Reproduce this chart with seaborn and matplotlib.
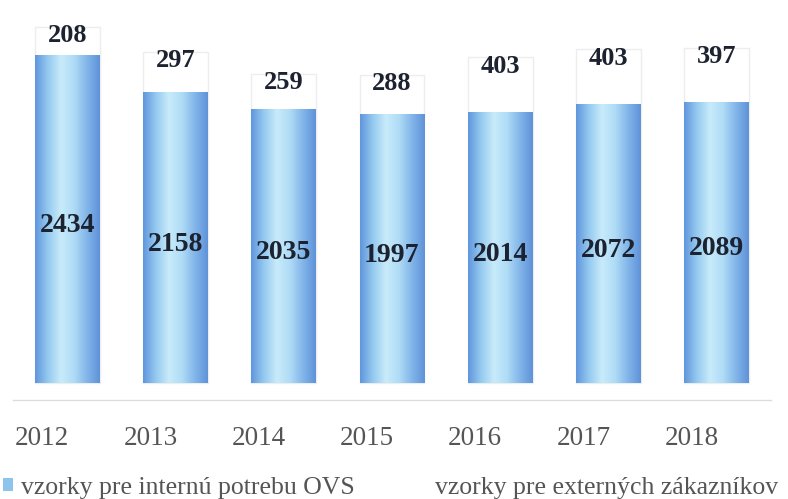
import numpy as np
import pandas as pd
import matplotlib
matplotlib.use("Agg")
import matplotlib.pyplot as plt
from matplotlib.colors import LinearSegmentedColormap
from matplotlib.patches import Patch
from matplotlib.transforms import ScaledTranslation
import seaborn as sns

years = ["2012", "2013", "2014", "2015", "2016", "2017", "2018"]
internal = [2434, 2158, 2035, 1997, 2014, 2072, 2089]
external = [208, 297, 259, 288, 403, 403, 397]
legend_labels = ["vzorky pre internú potrebu OVS", "vzorky pre externých zákazníkov"]

df = pd.DataFrame({"year": years, "internal": internal, "external": external})
df["total"] = df["internal"] + df["external"]

sns.set_theme(style="white")
plt.rcParams["font.family"] = ["Liberation Serif", "DejaVu Serif"]

fig = plt.figure(figsize=(7.88, 4.99), dpi=100)
ax = fig.add_axes([13 / 788, 99 / 499, 758 / 788, 390 / 499])

sns.barplot(data=df, x="year", y="total", color="white", saturation=1,
            width=0.6, edgecolor="#ededed", linewidth=1.0, ax=ax)
n_top = len(ax.patches)
sns.barplot(data=df, x="year", y="internal", color="#8cc4ec", saturation=1,
            width=0.6, linewidth=0, ax=ax)
blue_patches = ax.patches[n_top:]

cmap = LinearSegmentedColormap.from_list(
    "cyl", ["#6096dc", "#95caf0", "#c8ebfa", "#b0dcf6", "#82b6ea", "#5f92d8"])
grad = np.linspace(0, 1, 256).reshape(1, -1)
for p in blue_patches:
    x0, y0 = p.get_x(), p.get_y()
    w, h = p.get_width(), p.get_height()
    im = ax.imshow(grad, cmap=cmap, aspect="auto",
                   extent=[x0, x0 + w, y0, y0 + h], zorder=p.get_zorder() + 0.1)
    im.set_clip_path(p)

ax.set_xlim(-0.5, len(years) - 0.5)
ax.set_ylim(-126, 2768)

for i, (a, b) in enumerate(zip(internal, external)):
    ax.text(i, a / 2 - 50, f"{a}", ha="center", va="center", fontsize=20,
            fontweight="bold", color="#1c2230", zorder=5)
    ax.text(i, a + b + 20, f"{b}", ha="center", va="top", fontsize=19,
            fontweight="bold", color="#1c2230", zorder=5)

ax.set_xlabel("")
ax.set_ylabel("")
ax.set_yticks([])
ax.tick_params(axis="x", length=0, pad=19, labelsize=19.5, labelcolor="#555555")
shift = ScaledTranslation(-25 / 100, 0, fig.dpi_scale_trans)
for lbl in ax.get_xticklabels():
    lbl.set_transform(lbl.get_transform() + shift)
for s in ["top", "left", "right"]:
    ax.spines[s].set_visible(False)
ax.spines["bottom"].set_color("#dcdcdc")
ax.spines["bottom"].set_linewidth(1.0)

handles = [Patch(facecolor="#8cc4ec", edgecolor="none"),
           Patch(facecolor="white", edgecolor="none")]
fig.legend(handles, legend_labels, loc="center left",
           bbox_to_anchor=(0.004, 11 / 499), ncol=2, frameon=False,
           fontsize=18.5, labelcolor="#555555", handlelength=0.4,
           handleheight=0.4, handletextpad=0.3, columnspacing=2.4,
           borderaxespad=0, borderpad=0)

fig.savefig("out.png", dpi=100)
